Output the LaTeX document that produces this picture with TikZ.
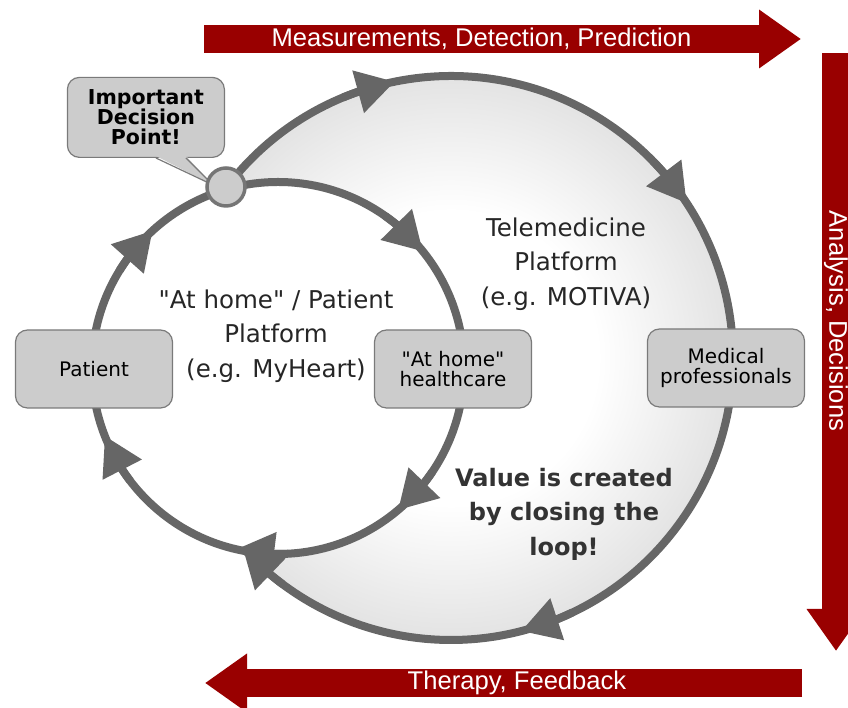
\documentclass[tikz,border=0pt]{standalone}
\usepackage{fontspec}
\setmainfont{DejaVu Sans}
\newfontfamily\bannerfont{Liberation Sans}
\usetikzlibrary{arrows.meta, bending, positioning, calc}
\definecolor{LoopGray}{HTML}{666666}
\definecolor{BoxGray}{HTML}{CCCCCC}
\definecolor{BoxEdge}{HTML}{7A7A7A}
\definecolor{BannerRed}{HTML}{990000}
\pgfdeclareradialshading{loopshade}{\pgfpoint{0bp}{0bp}}{color(0bp)=(white); color(13bp)=(white); color(25bp)=(black!11); color(50bp)=(black!11)}
\tikzset{
  loopline/.style={line width=8pt, draw=LoopGray},
  looparrow/.style={loopline, -{Triangle[length=38pt, width=42pt, flex]}},
  unitbox/.style={rectangle, rounded corners=12pt, draw=BoxEdge, fill=BoxGray, line width=1.2pt, minimum width=157pt, minimum height=78pt, align=center, font=\fontsize{20}{20}\selectfont},
  bubblebox/.style={unitbox, minimum height=80pt, font=\bfseries\fontsize{20.5}{20}\selectfont},
  decisiondot/.style={circle, draw=LoopGray!90, fill=BoxGray, line width=3.5pt, minimum size=38pt, inner sep=0pt},
  platformtext/.style={align=center, text=black!85, font=\fontsize{24.5}{34.5}\selectfont},
  valuetext/.style={align=center, text=black!80, font=\bfseries\fontsize{24}{34.5}\selectfont},
  redband/.style={line width=28pt, draw=BannerRed, -{Triangle[length=42pt, width=56pt]}},
  bandtext/.style={text=white, font=\bannerfont\fontsize{25.6}{26}\selectfont}
}
\begin{document}
\begin{tikzpicture}[x=1pt, y=1pt]
  \useasboundingbox (0,0) rectangle (848,708);
  % loop centres
  \coordinate (S) at (278,340);
  \coordinate (L) at (451,350);

  % shaded telemedicine area
  \fill[shading=loopshade] (L) circle[radius=282];
  \fill[white] (S) circle[radius=186];

  % the two loops
  \draw[loopline] ($(L)+(142.8:282)$) arc[start angle=142.8, end angle=-134, radius=282];
  \draw[loopline] (S) circle[radius=186];

  % arrow heads along the loops
  \foreach \t in {101.5, 33.3, -75.6, -137.6}
    \draw[looparrow] ($(L)+(\t+11:282)$) arc[start angle=\t+11, end angle=\t, radius=282];
  \foreach \t in {132.4, 38.8, -49.8, -103, -158.6}
    \draw[looparrow] ($(S)+(\t+16:186)$) arc[start angle=\t+16, end angle=\t, radius=186];

  % stations on the loops
  \node[unitbox] (patient) at (94,339) {Patient};
  \node[unitbox] (homecare) at (453,339) {\textquotedbl At home\textquotedbl\\healthcare};
  \node[unitbox] (medical) at (726,340) {Medical\\professionals};

  % decision point with callout
  \coordinate (dpc) at (226,521);
  \node[bubblebox, above left=29pt and 1pt of dpc] (bubble) {Important\\Decision\\Point!};
  \fill[BoxGray] ([xshift=10pt,yshift=2pt]bubble.south) -- ([xshift=40pt,yshift=2pt]bubble.south) -- ([xshift=-13pt,yshift=2pt]dpc) -- cycle;
  \draw[BoxEdge, line width=1.2pt] ([xshift=10pt]bubble.south) -- ([xshift=-13pt,yshift=2pt]dpc) -- ([xshift=40pt]bubble.south);
  \node[decisiondot] (dp) at (dpc) {};

  % platform labels
  \node[platformtext] (homelabel) at (276,372) {\textquotedbl At home\textquotedbl{} / Patient\\Platform\\(e.g. MyHeart)};
  \node[platformtext] (telelabel) at (566,444) {Telemedicine\\Platform\\(e.g. MOTIVA)};
  \node[valuetext] (valuelabel) at (564,194) {Value is created\\by closing the\\loop!};

  % red process arrows
  \coordinate (topA) at (204,669);
  \coordinate (topB) at (801,669);
  \coordinate (rightA) at (836,655);
  \coordinate (rightB) at (836,57);
  \coordinate (botA) at (802,25);
  \coordinate (botB) at (205,25);
  \draw[redband] (topA) -- (topB);
  \draw[redband] (rightA) -- (rightB);
  \draw[redband] (botA) -- (botB);
  \node[bandtext] (measure) at (481.5,669) {Measurements, Detection, Prediction};
  \node[bandtext, rotate=-90] (analysis) at (836,387) {Analysis, Decisions};
  \node[bandtext] (therapy) at (517,25) {Therapy, Feedback};
\end{tikzpicture}
\end{document}
